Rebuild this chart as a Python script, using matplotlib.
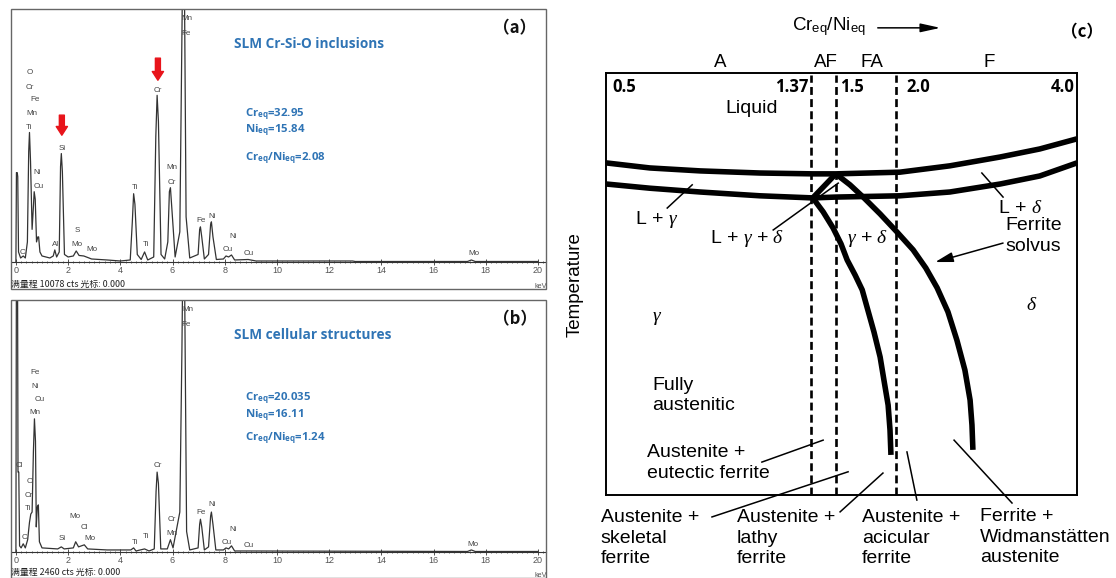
import matplotlib
matplotlib.use('Agg')
import matplotlib.pyplot as plt
from matplotlib.patches import Rectangle
from matplotlib.ticker import MultipleLocator

plt.rcParams['mathtext.fontset'] = 'custom'
plt.rcParams['mathtext.rm'] = 'Liberation Sans'
plt.rcParams['mathtext.it'] = 'Liberation Serif:italic'
plt.rcParams['mathtext.bf'] = 'Open Sans:bold'

W, H = 1116, 578

# ---- EDS spectrum (a): energy (keV) / counts
kev_a = [0.00, 0.02, 0.05, 0.07, 0.10, 0.18, 0.28, 0.36, 0.44, 0.49, 0.52, 0.56, 0.62, 0.67, 0.70,
         0.74, 0.79, 0.84, 0.87, 0.92, 1.00, 1.30, 1.43, 1.49, 1.56, 1.66, 1.71, 1.74, 1.78, 1.86,
         2.00, 2.20, 2.31, 2.42, 2.60, 2.90, 3.50, 4.00, 4.38, 4.46, 4.51, 4.56, 4.65, 4.80, 4.93,
         5.05, 5.28, 5.36, 5.41, 5.46, 5.56, 5.70, 5.82, 5.88, 5.92, 5.97, 6.10, 6.28, 6.36, 6.40,
         6.45, 6.52, 6.66, 6.98, 7.04, 7.07, 7.12, 7.22, 7.38, 7.46, 7.49, 7.55, 7.68, 7.95, 8.05,
         8.15, 8.26, 8.38, 8.90, 9.20, 12.9, 13.0, 17.3, 17.45, 17.6, 20.0]
cts_a = [0, 3560, 3560, 3400, 400, 160, 240, 160, 800, 4400, 5160, 4000, 1300, 2200, 2800,
         2500, 800, 1000, 1000, 400, 240, 160, 240, 480, 200, 400, 3800, 4320, 3600, 300,
         200, 240, 440, 260, 240, 120, 80, 40, 80, 1600, 2720, 2300, 300, 100, 400,
         80, 200, 5000, 6640, 5600, 300, 120, 800, 2800, 2960, 2200, 200, 1200, 9000, 13000,
         12000, 1800, 160, 300, 1300, 1400, 1000, 120, 300, 1500, 1600, 1000, 100, 120, 240,
         200, 280, 80, 100, 40, 40, 20, 20, 80, 20, 20]
full_a = 10078
el_a = ['O', 'Cr', 'Fe', 'Mn', 'Ti', 'Ni', 'Cu', 'Si', 'S', 'Mo', 'Mo', 'Al', 'C', 'Ti', 'Ti',
        'Cr', 'Mn', 'Cr', 'Mn', 'Fe', 'Fe', 'Ni', 'Ni', 'Cu', 'Cu', 'Mo']
el_a_kev = [0.54, 0.54, 0.73, 0.61, 0.50, 0.80, 0.88, 1.76, 2.34, 2.34, 2.91, 1.53, 0.27, 4.56, 4.98,
            5.44, 5.98, 5.98, 6.55, 6.51, 7.09, 7.51, 8.31, 8.12, 8.93, 17.55]
el_a_cts = [7560, 6960, 6490, 5930, 5370, 3580, 3020, 4540, 1270, 680, 480, 680, 360, 2950, 680,
            6850, 3780, 3180, 9710, 9110, 1670, 1830, 1000, 480, 320, 320]
arrow_kev = [1.76, 5.44]
arrow_tail = [5850, 8120]
arrow_tip = [5050, 7240]

# ---- EDS spectrum (b)
kev_b = [0.00, 0.02, 0.06, 0.08, 0.11, 0.14, 0.20, 0.28, 0.36, 0.45, 0.52, 0.57, 0.62, 0.67, 0.71,
         0.75, 0.78, 0.82, 0.86, 0.90, 1.00, 1.60, 1.74, 1.85, 2.20, 2.29, 2.40, 2.62, 2.75, 3.50,
         4.40, 4.51, 4.60, 4.93, 5.10, 5.30, 5.37, 5.41, 5.46, 5.55, 5.80, 5.92, 6.02, 6.28, 6.36,
         6.40, 6.46, 6.54, 6.66, 6.98, 7.04, 7.07, 7.12, 7.22, 7.38, 7.46, 7.49, 7.55, 7.66, 7.95,
         8.05, 8.15, 8.26, 8.38, 8.90, 17.3, 17.45, 17.6, 20.0]
cts_b = [0, 3000, 3000, 780, 780, 60, 40, 80, 40, 120, 290, 370, 390, 980, 1300,
         1080, 245, 440, 460, 100, 40, 30, 50, 30, 40, 100, 50, 70, 30, 20,
         20, 40, 10, 30, 10, 30, 590, 780, 670, 30, 30, 120, 40, 390, 1960,
         3000, 2740, 200, 20, 40, 270, 320, 245, 20, 50, 350, 390, 270, 20, 20,
         40, 30, 60, 10, 10, 5, 20, 5, 5]
full_b = 2460
el_b = ['Fe', 'Ni', 'Cu', 'Mn', 'Cl', 'O', 'Cr', 'Ti', 'C', 'Si', 'Mo', 'Cl', 'Mo', 'Ti', 'Ti',
        'Cr', 'Cr', 'Mn', 'Mn', 'Fe', 'Fe', 'Ni', 'Ni', 'Cu', 'Cu', 'Mo']
el_b_kev = [0.73, 0.73, 0.92, 0.73, 0.15, 0.54, 0.50, 0.46, 0.31, 1.76, 2.26, 2.64, 2.84, 4.56, 4.98,
            5.44, 5.98, 5.98, 6.59, 6.51, 7.09, 7.51, 8.31, 8.08, 8.93, 17.51]
el_b_cts = [1757, 1620, 1484, 1357, 849, 693, 556, 429, 146, 127, 351, 244, 127, 88, 156,
            849, 322, 185, 2372, 2225, 390, 459, 224, 88, 68, 78]

# ---- Schaeffler-type diagram (c), schematic units 0-100
ratio_labels = ['0.5', '1.37', '1.5', '2.0', '4.0']
ratio_pos = [1.3, 42.9, 49.7, 63.7, 99.6]
dash_pos = [43.5, 48.8, 61.6]
mode_labels = ['A', 'AF', 'FA', 'F']
mode_pos = [24.2, 46.7, 56.5, 81.3]

liq_u = [0, 9.3, 20.0, 32.7, 43.9, 48.8, 62.4, 73.0, 83.7, 92.1, 100]
liq_v = [78.7, 77.5, 76.8, 76.3, 76.1, 76.1, 76.5, 78.0, 80.1, 82.0, 84.4]
sol_u = [0, 9.3, 20.0, 32.7, 43.9, 48.8, 62.4, 73.0, 83.7, 92.1, 100]
sol_v = [73.7, 72.7, 71.8, 70.9, 70.4, 70.6, 70.9, 71.8, 73.7, 75.6, 78.7]
tri_u = [43.9, 48.8]
tri_v = [70.4, 76.1]
fsolv_u = [48.8, 51.8, 54.6, 58.2, 61.8, 65.2, 67.9, 70.3, 72.6, 74.5, 76.2, 77.3, 77.7, 77.9]
fsolv_v = [76.1, 73.5, 70.6, 66.6, 62.3, 58.1, 53.8, 49.1, 43.4, 36.7, 29.6, 22.5, 16.6, 10.7]
gd_u = [43.9, 46.1, 48.2, 49.9, 51.2, 52.9, 54.4, 55.6, 56.9, 58.2, 59.0, 59.9, 60.3, 60.5]
gd_v = [70.4, 67.1, 63.3, 59.5, 55.7, 52.1, 48.6, 43.8, 38.6, 32.7, 27.3, 21.3, 15.4, 9.5]

ptr_u0 = [13.0, 35.5, 79.8, 33.1, 22.5, 49.7, 66.0, 86.2]
ptr_v0 = [68.0, 62.8, 76.3, 7.8, -5.2, -4.0, -1.2, -1.9]
ptr_u1 = [18.3, 49.3, 84.3, 46.1, 51.4, 58.8, 63.9, 73.9]
ptr_v1 = [73.5, 73.9, 70.6, 13.0, 5.5, 5.2, 10.2, 13.0]

c_text = ['Liquid', 'L + $\\gamma$', 'L + $\\gamma$ + $\\delta$', 'L + $\\delta$', 'Ferrite\nsolvus',
          '$\\gamma$ + $\\delta$', '$\\gamma$', '$\\delta$', 'Fully\naustenitic',
          'Austenite +\neutectic ferrite', 'Austenite +\nskeletal\nferrite',
          'Austenite +\nlathy\nferrite', 'Austenite +\nacicular\nferrite',
          'Ferrite +\nWidmanstätten\naustenite']
c_text_u = [31.0, 10.8, 22.1, 83.2, 84.7, 51.2, 10.8, 90.4, 9.8, 8.7, -1.1, 27.8, 54.4, 79.4]
c_text_v = [91.7, 65.2, 60.9, 68.0, 61.4, 60.7, 41.9, 45.0, 23.5, 7.6, -10.2, -10.2, -10.2, -10.0]
c_text_ha = ['center', 'center', 'left', 'left', 'left', 'left', 'center', 'center', 'left',
             'left', 'left', 'left', 'left', 'left']

BLUE = '#2f74b5'
SANS = 'Liberation Sans'
CJK = ['Noto Sans CJK SC', 'DejaVu Sans']


def fx(x):
    return x / W


def fy(y):
    return 1 - y / H


fig = plt.figure(figsize=(W / 100, H / 100), dpi=100)


def spectrum(top, base, fbot, kev, cts, full, els, ekev, ects, title, lines, tag, caption):
    # outer frame of the screenshot
    fig.add_artist(Rectangle((fx(11), fy(fbot)), (546 - 11) / W, (fbot - top) / H,
                             transform=fig.transFigure, fill=False, ec='#666666', lw=1.0))
    ax = fig.add_axes([fx(12), fy(base), (546 - 12) / W, (base - top) / H])
    ax.set_xlim(-0.15, 20.31)
    ax.set_ylim(0, full)
    ax.plot(kev, cts, color='#333333', lw=0.9)
    for s in ['left', 'top', 'right']:
        ax.spines[s].set_visible(False)
    ax.spines['bottom'].set_color('#333333')
    ax.spines['bottom'].set_linewidth(0.8)
    ax.set_yticks([])
    ax.set_xticks(range(0, 21, 2))
    ax.xaxis.set_minor_locator(MultipleLocator(0.2))
    ax.tick_params(axis='x', which='major', direction='inout', length=4, width=0.6,
                   color='#333333', labelsize=6.5, labelcolor='#555555', pad=1)
    ax.tick_params(axis='x', which='minor', direction='inout', length=2, width=0.5, color='#333333')
    for lab in ax.get_xticklabels():
        lab.set_family(SANS)
    for name, xk, yc in zip(els, ekev, ects):
        ax.text(xk, yc, name, fontsize=5.8, color='#444444', family=SANS, ha='center', va='center')
    fig.text(fx(234), fy(top + 35), title, fontsize=9.8, color=BLUE, family='Open Sans',
             weight='bold', va='center')
    for txt, yy in lines:
        fig.text(fx(245), fy(yy), txt, fontsize=8.2, color=BLUE, family='Open Sans',
                 weight='bold', va='center')
    fig.text(fx(515), fy(top + 19), tag, fontsize=12, family=CJK, weight='bold', ha='center',
             va='center', color='#111111')
    fig.text(fx(11), fy(fbot - 5), caption, fontsize=6.4, family=CJK, va='center', color='#222222')
    fig.text(fx(547), fy(fbot - 2), 'keV', fontsize=5.2, family=SANS, ha='right', va='center',
             color='#555555')
    return ax


ax_a = spectrum(9, 262, 289, kev_a, cts_a, full_a, el_a, el_a_kev, el_a_cts,
                'SLM Cr-Si-O inclusions',
                [('Cr$_\\mathbf{eq}$=32.95', 114), ('Ni$_\\mathbf{eq}$=15.84', 130),
                 ('Cr$_\\mathbf{eq}$/Ni$_\\mathbf{eq}$=2.08', 158)],
                '（a）', '满量程 10078 cts 光标: 0.000')
for xk, y0, y1 in zip(arrow_kev, arrow_tail, arrow_tip):
    ax_a.annotate('', xy=(xk, y1), xytext=(xk, y0),
                  arrowprops=dict(arrowstyle='simple,head_length=0.7,head_width=0.9,tail_width=0.4',
                                  color='#e8141b', shrinkA=0, shrinkB=0, mutation_scale=9))

ax_b = spectrum(300, 552, 577.5, kev_b, cts_b, full_b, el_b, el_b_kev, el_b_cts,
                'SLM cellular structures',
                [('Cr$_\\mathbf{eq}$=20.035', 398), ('Ni$_\\mathbf{eq}$=16.11', 415),
                 ('Cr$_\\mathbf{eq}$/Ni$_\\mathbf{eq}$=1.24', 438)],
                '（b）', '满量程 2460 cts 光标: 0.000')

# ---- panel (c)
axc = fig.add_axes([fx(606), fy(495), 471 / W, 422 / H])
axc.set_xlim(0, 100)
axc.set_ylim(0, 100)
axc.set_xticks([])
axc.set_yticks([])
for s in axc.spines.values():
    s.set_linewidth(1.4)

for u in dash_pos:
    axc.plot([u, u], [0, 99.5], color='k', lw=1.9, linestyle=(0, (3.0, 1.6)))

thick = dict(color='k', lw=4.0, solid_capstyle='butt', clip_on=False)
axc.plot(liq_u, liq_v, **thick)
axc.plot(sol_u, sol_v, **thick)
axc.plot(tri_u, tri_v, **thick)
axc.plot(fsolv_u, fsolv_v, **thick)
axc.plot(gd_u, gd_v, **thick)

for a, b, c, d in zip(ptr_u0, ptr_v0, ptr_u1, ptr_v1):
    axc.plot([a, c], [b, d], color='k', lw=1.1, clip_on=False)

axc.annotate('', xy=(69.9, 55.2), xytext=(84.3, 59.7),
             arrowprops=dict(arrowstyle='-|>,head_length=0.9,head_width=0.25', lw=1.1, color='k',
                             shrinkA=0, shrinkB=0, mutation_scale=12))
axc.annotate('', xy=(71.0, 110.7), xytext=(57.7, 110.7), annotation_clip=False,
             arrowprops=dict(arrowstyle='-|>,head_length=1.0,head_width=0.22', lw=1.1, color='k',
                             shrinkA=0, shrinkB=0, mutation_scale=12))

for t, u, v, ha in zip(c_text, c_text_u, c_text_v, c_text_ha):
    axc.text(u, v, t, fontsize=14, family=SANS, ha=ha, va='center', linespacing=1.25)

for t, u in zip(ratio_labels, ratio_pos):
    ha = 'right' if t in ('1.37', '4.0') else 'left'
    axc.text(u, 96.7, t, fontsize=12, family='Open Sans', weight='bold', ha=ha, va='center')

for t, u in zip(mode_labels, mode_pos):
    axc.text(u, 102.6, t, fontsize=13.5, family=SANS, ha='center', va='center')

axc.text(47.3, 110.9, 'Cr$_\\mathrm{eq}$/Ni$_\\mathrm{eq}$', fontsize=13.5, family=SANS,
         ha='center', va='center')
axc.text(-6.6, 49.8, 'Temperature', fontsize=13.5, family=SANS, rotation=90, ha='center',
         va='center')
axc.text(101, 109.7, '（c）', fontsize=12, family=CJK, weight='bold', ha='center', va='center')

fig.savefig('out.png', dpi=100)
